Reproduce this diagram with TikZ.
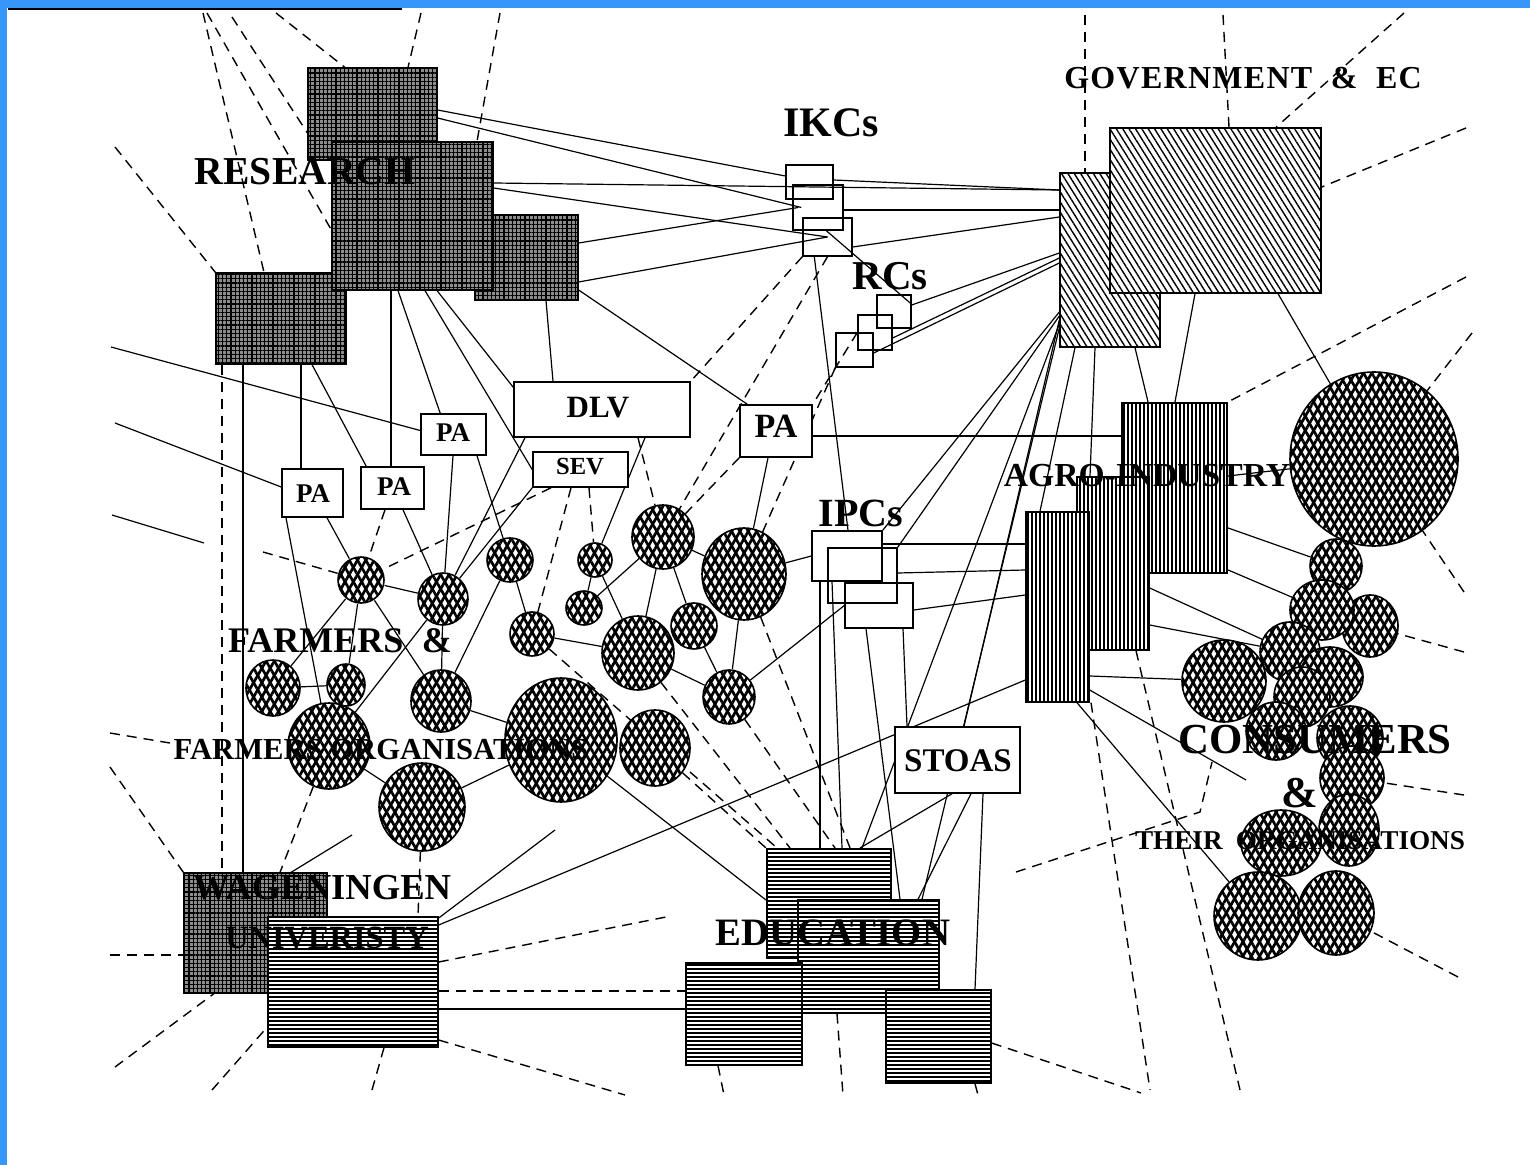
\documentclass[tikz,border=0pt]{standalone}
\usepackage{fontspec}
\setmainfont{Liberation Serif}
\usetikzlibrary{patterns.meta,shapes.geometric,fit}
\pgfdeclarelayer{back}
\pgfdeclarelayer{bg}
\pgfsetlayers{back,bg,main}
\definecolor{frameblue}{RGB}{55,150,250}
\newcommand\fsz[1]{\fontsize{#1}{#1}\selectfont}
\tikzset{
  rgrid/.style={draw, line width=0.6pt, inner sep=0pt, preaction={fill=black!45},
     pattern color=black, pattern={Hatch[angle=0,distance=2.1pt,line width=0.55pt]}},
  gdiag/.style={draw, line width=0.7pt, inner sep=0pt, preaction={fill=white},
     pattern={Lines[angle=-58,distance=2.7pt,line width=0.7pt]}},
  avert/.style={draw, line width=0.7pt, inner sep=0pt, preaction={fill=white},
     pattern={Lines[angle=90,distance=2pt,line width=1.1pt]}},
  ehor/.style={draw, line width=0.7pt, inner sep=0pt, preaction={fill=white},
     pattern={Lines[angle=0,distance=2pt,line width=1.05pt]}},
  wbox/.style={draw, line width=0.8pt, fill=white, inner sep=0pt},
  obox/.style={draw, line width=0.7pt, inner sep=0pt},
  fmesh/.style={ellipse, draw, line width=0.8pt, inner sep=0pt, preaction={fill=white},
     pattern={Lines[angle=60,distance=3.6pt,line width=1.35pt]},
     postaction={pattern={Lines[angle=-60,distance=3.6pt,line width=1.35pt]}}},
  disc/.style 2 args={fmesh, minimum width=#1pt, minimum height=#2pt},
  lab/.style={inner sep=0pt, text=black},
  conn/.style={line width=0.6pt},
  dsh/.style={line width=0.7pt, dash pattern=on 5pt off 3.5pt},
}
\begin{document}
\begin{tikzpicture}[x=0.5pt,y=-0.5pt]
\useasboundingbox (0,0) rectangle (1530,1165);
\begin{pgfonlayer}{back}
\fill[frameblue] (0,0) rectangle (1530,1165);
\fill[white] (7,8) rectangle (1530,1165);
\draw[line width=1pt] (8,9) -- (402,9);
\end{pgfonlayer}

% ---------- research
\node[rgrid, fit={(308,68)(437,160)}] (r1) {};
\node[rgrid, fit={(475,215)(578,300)}] (r3) {};
\node[rgrid, fit={(216,273)(346,364)}] (r4) {};
\node[rgrid, fit={(332,142)(493,290)}] (r2) {};
% ---------- government
\node[gdiag, fit={(1060,173)(1160,347)}] (g1) {};
\node[gdiag, fit={(1110,128)(1321,293)}] (g2) {};
% ---------- IKCs, RCs, IPCs
\node[obox, fit={(786,165)(833,199)}] (k1) {};
\node[obox, fit={(793,185)(843,230)}] (k2) {};
\node[obox, fit={(803,218)(852,256)}] (k3) {};
\node[obox, fit={(877,295)(911,328)}] (rc1) {};
\node[obox, fit={(858,315)(892,350)}] (rc2) {};
\node[obox, fit={(836,333)(873,367)}] (rc3) {};
\node[obox, fit={(812,531)(882,581)}] (ipc1) {};
\node[obox, fit={(828,548)(897,603)}] (ipc3) {};
\node[obox, fit={(845,583)(913,628)}] (ipc2) {};
% ---------- white boxes
\node[wbox, fit={(514,382)(690,437)}] (dlv) {};
\node[wbox, fit={(533,452)(628,487)}] (sev) {};
\node[wbox, fit={(421,414)(486,455)}] (pa1) {};
\node[wbox, fit={(282,469)(343,517)}] (pa2) {};
\node[wbox, fit={(361,467)(424,509)}] (pa3) {};
\node[wbox, fit={(740,405)(812,457)}] (pa4) {};
\node[wbox, fit={(895,727)(1020,793)}] (stoas) {};
% ---------- agro-industry
\node[avert, fit={(1122,403)(1227,573)}] (a1) {};
\node[avert, fit={(1077,477)(1149,650)}] (a2) {};
\node[avert, fit={(1026,512)(1089,702)}] (a3) {};
% ---------- education
\node[ehor, fit={(767,849)(891,958)}] (e1) {};
\node[ehor, fit={(798,900)(939,1013)}] (e2) {};
\node[ehor, fit={(686,963)(802,1065)}] (e3) {};
\node[ehor, fit={(886,990)(991,1083)}] (e4) {};
% ---------- Wageningen
\node[rgrid, fit={(184,873)(327,993)}] (w1) {};
\node[ehor, fit={(268,917)(438,1047)}] (w2) {};
% ---------- farmers
\node[disc={23}{23}] (f1) at (361,580) {};
\node[disc={25}{26}] (f2) at (443,599) {};
\node[disc={23}{22}] (f3) at (510,560) {};
\node[disc={17}{17}] (f4) at (595,560) {};
\node[disc={18}{17}] (f5) at (584,608) {};
\node[disc={31}{32}] (f6) at (663,537) {};
\node[disc={42}{46}] (f7) at (744,574) {};
\node[disc={22}{22}] (f8) at (532,634) {};
\node[disc={36}{37}] (f9) at (638,653) {};
\node[disc={23}{23}] (f10) at (694,626) {};
\node[disc={26}{27}] (f11) at (729,697) {};
\node[disc={27}{28}] (f12) at (273,688) {};
\node[disc={19}{21}] (f13) at (346,685) {};
\node[disc={30}{31}] (f14) at (441,701) {};
\node[disc={41}{43}] (f15) at (329,746) {};
\node[disc={56}{62}] (f16) at (561,740) {};
\node[disc={35}{38}] (f17) at (655,748) {};
\node[disc={43}{44}] (f18) at (422,807) {};
% ---------- consumers
\node[disc={84}{87}] (c1) at (1374,459) {};
\node[disc={26}{27}] (c2) at (1336,566) {};
\node[disc={28}{31}] (c4) at (1370,626) {};
\node[disc={32}{30}] (c3) at (1322,610) {};
\node[disc={30}{30}] (c5) at (1290,652) {};
\node[disc={33}{30}] (c6) at (1330,677) {};
\node[disc={42}{41}] (c7) at (1224,681) {};
\node[disc={28}{30}] (c8) at (1302,697) {};
\node[disc={30}{29}] (c9) at (1276,731) {};
\node[disc={33}{32}] (c10) at (1350,738) {};
\node[disc={32}{32}] (c11) at (1352,778) {};
\node[disc={30}{36}] (c12) at (1349,830) {};
\node[disc={40}{33}] (c13) at (1281,843) {};
\node[disc={44}{44}] (c14) at (1258,916) {};
\node[disc={38}{42}] (c15) at (1336,913) {};

% ---------- free ends
\coordinate (lf1) at (111,347);
\coordinate (lf2) at (115,423);
\coordinate (lf3) at (112,515);
\coordinate (lf3b) at (204,543);
\coordinate (wf1) at (555,830);
\coordinate (wf2) at (352,835);
\coordinate (cf1) at (1246,780);
\coordinate (t1) at (203,13);
\coordinate (t2) at (207,13);
\coordinate (t3) at (232,17);
\coordinate (t4) at (276,13);
\coordinate (t5) at (421,13);
\coordinate (t6) at (500,13);
\coordinate (t7) at (115,147);
\coordinate (t8) at (1085,15);
\coordinate (t9) at (1223,15);
\coordinate (t10) at (1404,13);
\coordinate (s1) at (1466,128);
\coordinate (s2) at (1466,277);
\coordinate (s3) at (1472,333);
\coordinate (s4) at (1464,592);
\coordinate (s5) at (1464,652);
\coordinate (s6) at (1464,795);
\coordinate (s7) at (1458,977);
\coordinate (l1) at (263,552);
\coordinate (l2) at (110,733);
\coordinate (l2b) at (170,743);
\coordinate (l3) at (110,767);
\coordinate (l4) at (110,955);
\coordinate (b1) at (115,1067);
\coordinate (b2) at (212,1090);
\coordinate (b3) at (372,1090);
\coordinate (b4) at (625,1095);
\coordinate (b5) at (666,917);
\coordinate (b6) at (724,1095);
\coordinate (b7) at (843,1095);
\coordinate (b8) at (978,1095);
\coordinate (b9) at (1141,1093);
\coordinate (b10) at (1150,1090);
\coordinate (b11) at (1240,1090);
\coordinate (m1) at (1016,872);
\coordinate (m2) at (1200,812);
\coordinate (m3) at (1212,762);

% ---------- labels
\node[lab, font=\bfseries\fsz{19.8pt}] (tres) at (305,172) {RESEARCH};
\node[lab, font=\bfseries\fsz{21pt}] (tikc) at (831,123) {IKCs};
\node[lab, font=\bfseries\fsz{20.5pt}] (trc) at (890,276) {RCs};
\node[lab, font=\bfseries\fsz{20pt}] (tipc) at (861,513) {IPCs};
\node[lab, font=\bfseries\fsz{16pt}\addfontfeature{LetterSpace=4}] (tgov) at (1243,78) {GOVERNMENT\ \ \&\ \ EC};
\node[lab, font=\bfseries\fsz{15.5pt}] (tdlv) at (598,408) {DLV};
\node[lab, font=\bfseries\fsz{12.3pt}] (tsev) at (580,467) {SEV};
\node[lab, font=\bfseries\fsz{13.5pt}] (tpa1) at (453,433) {PA};
\node[lab, font=\bfseries\fsz{13.5pt}] (tpa2) at (313,494) {PA};
\node[lab, font=\bfseries\fsz{13.5pt}] (tpa3) at (394,487) {PA};
\node[lab, font=\bfseries\fsz{17pt}] (tpa4) at (776,426) {PA};
\node[lab, font=\bfseries\fsz{16.5pt}] (tstoas) at (958,761) {STOAS};
\node[lab, font=\bfseries\fsz{18pt}] (tfarm) at (340,641) {\makebox[112pt][s]{FARMERS \&}};
\node[lab, font=\bfseries\fsz{15.3pt}] (tfo) at (381,750) {FARMERS ORGANISATIONS};
\node[lab, font=\bfseries\fsz{16.8pt}] (tagro) at (1147,476) {AGRO-INDUSTRY};
\node[lab, font=\bfseries\fsz{21.4pt}] (tcons) at (1315,740) {CONSUMERS};
\node[lab, font=\bfseries\fsz{22pt}] (tamp) at (1300,793) {\&};
\node[lab, font=\bfseries\fsz{13.6pt}] (tthr) at (1300,841) {\makebox[165pt][s]{THEIR ORGANISATIONS}};
\node[lab, font=\bfseries\fsz{18.3pt}] (twag) at (322,888) {WAGENINGEN};
\node[lab, font=\bfseries\fsz{16.2pt}] (tuni) at (327,938) {UNIVERISTY};
\node[lab, font=\bfseries\fsz{19.4pt}] (tedu) at (833,933) {EDUCATION};

% ---------- connectors
\begin{pgfonlayer}{bg}
\begin{scope}[conn]
% research - IKC - government
\draw (r1.east |- 0,110) -- (k1.west |- 0,176);
\draw (r1.east |- 0,118) -- ([xshift=4.5pt]k2.west);
\draw (r2.east |- 0,183) -- (g1.west |- 0,190);
\draw (r2.east |- 0,188) -- (k3.center);
\draw (r3.east |- 0,243) -- ([xshift=3pt]k2.west);
\draw (r3.east |- 0,282) -- (k3.center);
\draw (r3.east |- 0,290) -- ([xshift=4pt]pa4.north west);
\draw (k1.east |- 0,180) -- (g1.west |- 0,190);
\draw (k2.east |- 0,210) -- (g1.west |- 0,210);
\draw (k3.east |- 0,247) -- (g1.west |- 0,217);
\draw ([xshift=17pt]k2.south west) -- ([yshift=-5pt]rc1.north east);
\draw (rc1.east |- 0,305) -- (g1.west |- 0,253);
\draw (rc2.east |- 0,338) -- (g1.west |- 0,258);
\draw (rc3.east |- 0,353) -- (g1.west |- 0,263);
\draw ([xshift=6pt]k3.south west) -- (ipc1.north -| 848,0);
% research - PA / DLV
\draw (r3.south -| 546,0) -- (dlv.north -| 553,0);
\draw (r2.south -| 437,0) -- ([yshift=-3pt]dlv.north west);
\draw (r2.south -| 425,0) -- (sev.west);
\draw (r2.south -| 398,0) -- ([xshift=10pt]pa1.north west);
\draw (r2.south -| 391,0) -- (pa3.north -| 391,0);
\draw (r4.south -| 301,0) -- (pa2.north -| 301,0);
\draw (r4.south -| 312,0) -- ([xshift=3pt]pa3.north west);
\draw (r4.south -| 243,0) -- (w1.north -| 243,0);
\draw (lf1) -- ([yshift=2pt]pa1.west);
\draw (lf2) -- ([yshift=3pt]pa2.west);
\draw (lf3) -- (lf3b);
\draw (pa4.east |- 0,436) -- (a1.west |- 0,436);
% PA / DLV / SEV - farmers
\draw (pa2.south -| 327,0) -- (f1);
\draw (pa2.south -| 286,0) -- (f15);
\draw (pa3.south -| 403,0) -- (f2);
\draw (pa1.south -| 453,0) -- (f2);
\draw (pa1.south -| 477,0) -- (f3);
\draw (dlv.south -| 525,0) -- (f2);
\draw (sev.south west) -- (f2);
\draw (dlv.south -| 645,0) -- (f4);
\draw (pa4.south -| 768,0) -- (f7);
% farmers network
\draw (f1) -- (f2);
\draw (f1) -- (f12);
\draw (f1) -- (f13);
\draw (f1) -- (f14);
\draw (f12) -- (f13);
\draw (f2) -- (f14);
\draw (f2) -- (f15);
\draw (f3) -- (f14);
\draw (f3) -- (f8);
\draw (f8) -- (f9);
\draw (f4) -- (f5);
\draw (f5) -- (f6);
\draw (f6) -- (f7);
\draw (f6) -- (f9);
\draw (f6) -- (f10);
\draw (f9) -- (f11);
\draw (f10) -- (f11);
\draw (f7) -- (f11);
\draw (f4) -- (f9);
\draw (f14) -- (f16);
\draw (f15) -- (f18);
\draw (f18) -- (f16);
\draw (f16) -- (e1.west |- 0,900);
\draw (f7) -- (ipc1.west |- 0,556);
\draw (f11) -- (ipc2.west);
% Wageningen
\draw (w2.east |- 0,925) -- (a3.west |- 0,680);
\draw (w2.east |- 0,918) -- (wf1);
\draw (wf2) -- (w1.north -| 291,0);
\draw (w2.east |- 0,1009) -- (e3.west |- 0,1009);
% government fan
\draw (g1.west |- 0,312) -- (ipc1.north east);
\draw (g1.west |- 0,316) -- (ipc3.north east);
\draw (g1.west |- 0,320) -- (stoas.north -| 964,0);
\draw (g1.west |- 0,324) -- (e1.north -| 862,0);
\draw (g1.west |- 0,328) -- (e2.north -| 922,0);
\draw (g1.south -| 1075,0) -- (a3.north -| 1040,0);
\draw (g1.south -| 1095,0) -- (a2.north -| 1090,0);
\draw (g1.south -| 1135,0) -- (a1.north -| 1148,0);
\draw (g2.south -| 1195,0) -- (a1.north -| 1175,0);
\draw (g2.south -| 1278,0) -- (c1);
% agro-industry
\draw (a3.west |- 0,544) -- (ipc1.east |- 0,544);
\draw (a3.west |- 0,570) -- (ipc3.east |- 0,573);
\draw (a3.west |- 0,595) -- (ipc2.east |- 0,610);
\draw (a1.east |- 0,476) -- (c1);
\draw (a1.east |- 0,528) -- (c2);
\draw (a1.east |- 0,570) -- (c3);
\draw (a2.east |- 0,588) -- (c5);
\draw (a2.east |- 0,625) -- (c5);
\draw (a3.east |- 0,676) -- (c7);
\draw (a3.east |- 0,690) -- (cf1);
\draw (a3.south -| 1077,0) -- (c14);
% STOAS, IPCs - education
\draw (stoas.south -| 952,0) -- (e1.north -| 860,0);
\draw (stoas.south -| 971,0) -- (e2.north -| 918,0);
\draw (stoas.south -| 983,0) -- (e4.north -| 975,0);
\draw (ipc1.south -| 820,0) -- (e1.north -| 820,0);
\draw (ipc1.south -| 832,0) -- (e1.north -| 842,0);
\draw (ipc2.south -| 866,0) -- (e2.north -| 900,0);
\draw (ipc2.south -| 903,0) -- (stoas.north -| 907,0);
\end{scope}

\begin{scope}[dsh]
% top
\draw (t1) -- (r4.north -| 264,0);
\draw (t2) -- (r2.west |- 0,230);
\draw (t3) -- (r1.west |- 0,133);
\draw (t4) -- (r1.north -| 345,0);
\draw (t5) -- (r1.north -| 408,0);
\draw (t6) -- (r2.north -| 477,0);
\draw (t7) -- (r4.north west);
\draw (t8) -- (g1.north -| 1085,0);
\draw (t9) -- (g2.north -| 1229,0);
\draw (t10) -- (g2.north -| 1276,0);
% right
\draw (s1) -- (g2.east |- 0,187);
\draw (s2) -- (a1.north east);
\draw (s3) -- (c1);
\draw (s4) -- (c1);
\draw (s5) -- (c4);
\draw (s6) -- (c11);
\draw (s7) -- (c15);
% IKC / RC towards farmers
\draw (k3.south west) -- (dlv.north east);
\draw (k3.south) -- (f6);
\draw (rc3.south west) -- (f7);
\draw (rc2.west) -- (pa4.north east);
% farmers
\draw (pa4.south west) -- (f6);
\draw (dlv.south -| 638,0) -- (f6);
\draw (sev.south -| 571,0) -- (f8);
\draw (sev.south -| 589,0) -- (f4);
\draw (sev.south -| 551,0) -- (f1);
\draw (pa3.south -| 385,0) -- (f1);
\draw (l1) -- (f1);
\draw (l2) -- (l2b);
\draw (f9) -- (e1.north -| 790,0);
\draw (f11) -- (e1.north -| 835,0);
\draw (f17) -- (e1.north west);
\draw (f8) -- (e1.north -| 777,0);
\draw (f7) -- (e1.north -| 850,0);
% Wageningen
\draw (l3) -- (w1.north west);
\draw (l4) -- (w1.west |- 0,955);
\draw (b1) -- (w1.south -| 214,0);
\draw (b2) -- (w2.west |- 0,1027);
\draw (b3) -- (w2.south -| 384,0);
\draw (w2.east |- 0,1040) -- (b4);
\draw (w2.east |- 0,962) -- (b5);
\draw (w2.east |- 0,991) -- (e3.west |- 0,991);
\draw (r4.south -| 222,0) -- (w1.north -| 222,0);
\draw (f15) -- (w1.north -| 280,0);
\draw (f18) -- (w2.north -| 418,0);
% education / consumers
\draw (e3.south -| 718,0) -- (b6);
\draw (e2.south -| 837,0) -- (b7);
\draw (e4.south -| 975,0) -- (b8);
\draw (e4.east |- 0,1043) -- (b9);
\draw (a3.south -| 1091,0) -- (b10);
\draw (a2.south -| 1136,0) -- (b11);
\draw (m1) -- (m2) -- (m3);
\end{scope}
\end{pgfonlayer}
\end{tikzpicture}
\end{document}
